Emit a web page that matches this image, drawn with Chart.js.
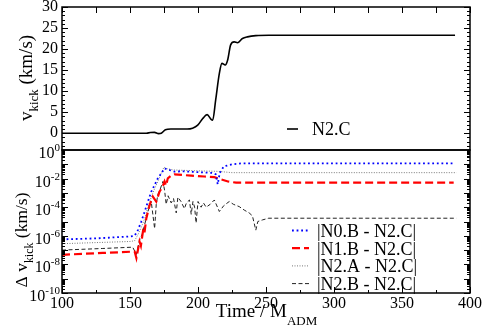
<!DOCTYPE html>
<html><head><meta charset="utf-8">
<script src="https://cdn.jsdelivr.net/npm/chart.js@4.4.0/dist/chart.umd.min.js"></script>
<style>
html,body{margin:0;padding:0;background:#fff;}
#wrap{position:relative;width:485px;height:336px;overflow:hidden;background:#fff;}
canvas{position:absolute;left:0;top:0;}
</style></head><body>
<div id="wrap"><canvas id="bot" width="485" height="336"></canvas><canvas id="top" width="485" height="336"></canvas></div>
<script>
// ---------- data ----------
const xTicks = [100, 150, 200, 250, 300, 350, 400];
const topYTicks = [0, 5, 10, 15, 20, 25, 30];
const logExponents = [0, -2, -4, -6, -8, -10];

const n2cTime = [100, 162, 165, 168, 171, 173, 176, 180, 186, 192, 196, 199.8, 203.5, 206.7, 209.6, 210.8, 213, 215.7, 217.6, 220, 221.8, 224, 226.6, 229, 232.7, 236.4, 242.5, 252, 300, 389];
const n2cKick = [0, 0, 0.15, 0.2, -0.1, 0, 0.8, 1.0, 1.0, 1.0, 1.2, 1.9, 3.5, 4.4, 3.3, 3.1, 7.9, 14.2, 16.6, 16.2, 17.4, 21.0, 21.7, 21.5, 22.5, 22.9, 23.2, 23.3, 23.3, 23.3];

const n0bTime = [100, 125, 150, 153.4, 155.9, 158.3, 160.8, 163.2, 165.6, 168.1, 170.5, 173, 175.4, 177, 182.7, 190, 200, 210, 213, 214.5, 216, 219, 225, 232, 388];
const n0bDiff = [5.6e-7, 6.6e-7, 8.9e-7, 1.0e-6, 2.6e-6, 1.0e-5, 5.0e-5, 2.5e-4, 1.2e-3, 3.6e-3, 1.05e-2, 2.3e-2, 5.2e-2, 4.5e-2, 3.1e-2, 3.2e-2, 2.8e-2, 2.5e-2, 2.0e-2, 4.0e-3, 2.5e-2, 7.1e-2, 0.1, 0.117, 0.117];

const n1bTime = [100, 130, 153.4, 154.7, 157, 158, 159.5, 160.5, 162, 164.4, 166.8, 169.3, 171.7, 174, 175.4, 176.5, 177.8, 180.3, 182.7, 195, 204.7, 212, 217, 222, 228, 388];
const n1bDiff = [4.7e-8, 6.3e-8, 7.9e-8, 2.8e-8, 4.0e-7, 2.0e-7, 2.0e-6, 1.3e-6, 1.7e-5, 1.4e-4, 5.5e-4, 2.5e-4, 1.2e-3, 2.8e-3, 6.3e-3, 3.2e-3, 1.05e-2, 1.6e-2, 2.0e-2, 1.6e-2, 1.4e-2, 1.26e-2, 8.9e-3, 6.3e-3, 5.2e-3, 5.2e-3];

const n2aTime = [100, 150, 153.4, 156, 158.3, 160.8, 163.2, 165.6, 168.1, 170.5, 173, 175, 177, 182, 200, 215, 225, 390];
const n2aDiff = [2.8e-7, 4.0e-7, 4.5e-7, 1.3e-6, 4.0e-6, 1.6e-5, 1.0e-4, 5.0e-4, 2.0e-3, 6.3e-3, 2.5e-2, 6.3e-2, 5.0e-2, 4.0e-2, 3.5e-2, 3.2e-2, 2.6e-2, 2.6e-2];

const n2bTime = [100, 130, 152, 154.7, 157, 159, 160.8, 163.2, 165.6, 168.1, 169.3, 170.5, 172, 174.2, 175.4, 176.6, 178, 180.3, 182, 184, 185.2, 187.5, 190, 191.5, 193.7, 195, 196.3, 197.5, 198.6, 200, 202.3, 204, 206, 209, 212, 215.7, 219, 223, 226, 230.3, 234, 237.6, 240, 242.5, 244, 247.5, 252, 390];
const n2bDiff = [1.0e-7, 1.3e-7, 1.6e-7, 5.0e-8, 5.0e-7, 1.3e-6, 6.3e-6, 5.0e-5, 2.5e-4, 3.2e-6, 1.6e-4, 7.9e-4, 1.6e-3, 6.3e-3, 1.6e-3, 1.6e-4, 6.3e-4, 2.0e-4, 4.0e-4, 4.0e-5, 5.0e-4, 2.5e-4, 7.9e-5, 2.0e-4, 3.2e-4, 3.2e-5, 2.5e-4, 1.0e-4, 7.9e-6, 2.5e-4, 1.0e-4, 2.0e-4, 1.0e-4, 1.6e-4, 3.2e-4, 5.0e-5, 1.3e-4, 2.5e-4, 1.6e-4, 1.1e-4, 6.3e-5, 4.0e-5, 2.5e-5, 2.5e-6, 1.0e-5, 1.3e-5, 1.7e-5, 1.7e-5];

// ---------- helpers ----------
const FONT = '"Liberation Serif", "DejaVu Serif", "Times New Roman", serif';
const pts = (t, v) => t.map((x, i) => ({x: x, y: v[i]}));

function partsWidth(ctx, parts, k) {
  let w = 0;
  for (const p of parts) { ctx.font = (p.size * k) + 'px ' + FONT; w += ctx.measureText(p.t).width; }
  return w;
}
// draws text parts centred on (cx, y0) fitted to a target width
function drawFitted(ctx, parts, cx, y0, target) {
  const k = Math.min(1, target / partsWidth(ctx, parts, 1));
  let x = cx - partsWidth(ctx, parts, k) / 2;
  for (const p of parts) {
    ctx.font = (p.size * k) + 'px ' + FONT;
    ctx.fillText(p.t, x, y0 + (p.dy || 0) * k);
    x += ctx.measureText(p.t).width;
  }
}
function line(ctx, x1, y1, x2, y2) { ctx.beginPath(); ctx.moveTo(x1, y1); ctx.lineTo(x2, y2); ctx.stroke(); }

const framePlugin = {
  id: 'frame',
  afterDraw(chart, args, opts) {
    const ctx = chart.ctx, a = chart.chartArea;
    const xs = chart.scales.x, ys = chart.scales.y;
    ctx.save();
    ctx.fillStyle = '#000';
    ctx.strokeStyle = '#000';
    ctx.lineWidth = 1;
    ctx.setLineDash([]);
    ctx.textBaseline = 'alphabetic';
    ctx.textAlign = 'left';
    if (opts.kind === 'top') {
      for (let v = 100; v <= 400; v += 25) {
        const px = Math.round(xs.getPixelForValue(v)) + 0.5;
        line(ctx, px, a.top, px, a.top + 6);
      }
      for (let v = -4; v <= 30; v++) {
        const py = Math.round(ys.getPixelForValue(v)) + 0.5;
        const len = v % 5 === 0 ? 6 : 3;
        line(ctx, a.left, py, a.left + len, py);
        line(ctx, a.right, py, a.right - len, py);
      }
      // y title
      ctx.save();
      ctx.translate(32, 78);
      ctx.rotate(-Math.PI / 2);
      drawFitted(ctx, [{t: 'v', size: 19}, {t: 'kick', size: 13, dy: 6}, {t: ' (km/s)', size: 19}], 0, 0, 90);
      ctx.restore();
      // legend
      const ds = chart.data.datasets[0];
      ctx.lineWidth = ds.borderWidth;
      line(ctx, 287, 129, 298, 129);
      ctx.font = '18px ' + FONT;
      ctx.fillText(ds.label, 312, 135);
    } else {
      for (let v = 100; v <= 400; v += 25) {
        const px = Math.round(xs.getPixelForValue(v)) + 0.5;
        const len = v % 50 === 0 ? 6 : 3;
        line(ctx, px, a.bottom, px, a.bottom - len);
      }
      for (let e = -10; e < 0; e++) {
        for (let m = 1; m <= 9; m++) {
          const py = Math.round(ys.getPixelForValue(m * Math.pow(10, e))) + 0.5;
          const len = m === 1 ? 6 : 3;
          line(ctx, a.left, py, a.left + len, py);
          line(ctx, a.right, py, a.right - len, py);
        }
      }
      // log tick labels 10^k
      for (const e of logExponents) {
        const py = ys.getPixelForValue(Math.pow(10, e));
        const ex = String(e);
        ctx.font = '11px ' + FONT;
        const ew = ctx.measureText(ex).width;
        ctx.font = '16px ' + FONT;
        const bw = ctx.measureText('10').width;
        const right = 60;
        ctx.fillText('10', right - ew - bw, py + 8);
        ctx.font = '11px ' + FONT;
        ctx.fillText(ex, right - ew, py + 1);
      }
      // y title
      ctx.save();
      ctx.translate(27, 240);
      ctx.rotate(-Math.PI / 2);
      drawFitted(ctx, [{t: '\u0394 v', size: 19}, {t: 'kick', size: 13, dy: 6}, {t: ' (km/s)', size: 19}], 0, 0, 95);
      ctx.restore();
      // x title
      drawFitted(ctx, [{t: 'Time / M', size: 19}, {t: 'ADM', size: 13, dy: 8}], 266.5, 317, 104);
      // legend
      [0, 1, 2, 3].forEach((i) => {
        const ds = chart.data.datasets[i];
        const base = 237 + 17.7 * i;
        ctx.save();
        ctx.strokeStyle = ds.borderColor;
        ctx.lineWidth = ds.borderWidth;
        ctx.setLineDash(ds.borderDash || []);
        line(ctx, 292, base - 6.5, 309, base - 6.5);
        ctx.restore();
        ctx.font = '18px ' + FONT;
        ctx.fillStyle = '#000';
        ctx.fillText('|' + ds.label + '|', 317, base);
      });
    }
    // frame
    ctx.lineWidth = 1.5;
    ctx.strokeStyle = '#000';
    ctx.setLineDash([]);
    ctx.strokeRect(a.left, a.top, a.right - a.left, a.bottom - a.top);
    ctx.restore();
  }
};

const common = {
  animation: false, responsive: false, devicePixelRatio: 1,
  events: [],
  elements: {point: {radius: 0}},
};

new Chart(document.getElementById('top'), {
  type: 'line',
  data: {datasets: [{
    label: 'N2.C', data: pts(n2cTime, n2cKick), borderColor: '#000', borderWidth: 1.6,
    tension: 0.4, cubicInterpolationMode: 'monotone', fill: false
  }]},
  options: Object.assign({}, common, {
    layout: {padding: {top: 7, right: 15, bottom: 186, left: 0}},
    plugins: {legend: {display: false}, tooltip: {enabled: false}, frame: {kind: 'top'}},
    scales: {
      x: {type: 'linear', min: 100, max: 400, display: false},
      y: {
        type: 'linear', min: -4, max: 30,
        afterBuildTicks: s => { s.ticks = topYTicks.map(v => ({value: v})); },
        afterFit: s => { s.width = 62; s.paddingTop = 0; s.paddingBottom = 0; },
        grid: {display: false, drawTicks: false}, border: {display: false},
        ticks: {font: {family: FONT, size: 16}, color: '#000', padding: 4}
      }
    }
  }),
  plugins: [framePlugin]
});

new Chart(document.getElementById('bot'), {
  type: 'line',
  data: {datasets: [
    {label: 'N0.B - N2.C', data: pts(n0bTime, n0bDiff), borderColor: '#0000ff', borderWidth: 1.8, borderDash: [1.8, 2.8], tension: 0, fill: false},
    {label: 'N1.B - N2.C', data: pts(n1bTime, n1bDiff), borderColor: '#ff0000', borderWidth: 2.2, borderDash: [8, 4], tension: 0, fill: false},
    {label: 'N2.A - N2.C', data: pts(n2aTime, n2aDiff), borderColor: '#777777', borderWidth: 1, borderDash: [1, 1.5], tension: 0, fill: false},
    {label: 'N2.B - N2.C', data: pts(n2bTime, n2bDiff), borderColor: '#222222', borderWidth: 1, borderDash: [4, 2.5], tension: 0, fill: false}
  ]},
  options: Object.assign({}, common, {
    layout: {padding: {top: 150, right: 15, bottom: 0, left: 0}},
    plugins: {legend: {display: false}, tooltip: {enabled: false}, frame: {kind: 'bottom'}},
    scales: {
      x: {
        type: 'linear', min: 100, max: 400,
        afterBuildTicks: s => { s.ticks = xTicks.map(v => ({value: v})); },
        afterFit: s => { s.height = 43; s.paddingLeft = 0; s.paddingRight = 0; },
        grid: {display: false, drawTicks: false}, border: {display: false},
        ticks: {font: {family: FONT, size: 16}, color: '#000', padding: 1, maxRotation: 0, autoSkip: false}
      },
      y: {
        type: 'logarithmic', min: 1e-10, max: 1,
        afterFit: s => { s.width = 62; s.paddingTop = 0; s.paddingBottom = 0; },
        grid: {display: false, drawTicks: false}, border: {display: false},
        ticks: {display: false}
      }
    }
  }),
  plugins: [framePlugin]
});
</script>
</body></html>
